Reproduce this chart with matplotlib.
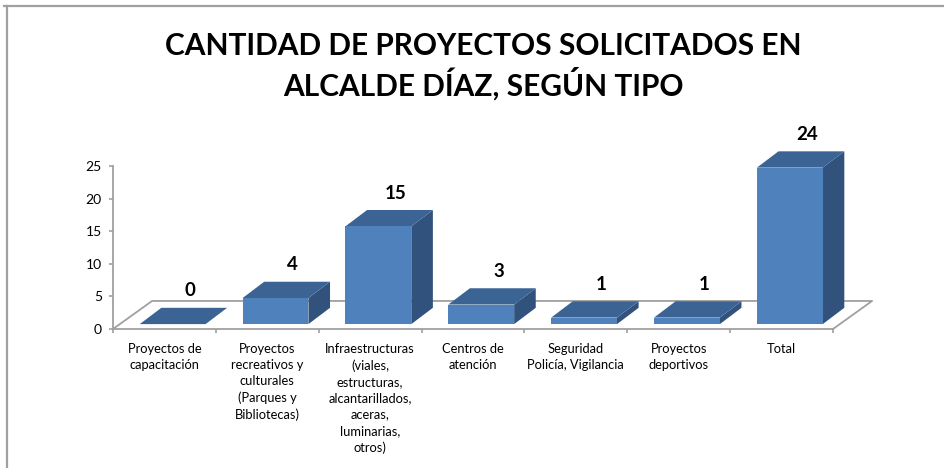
import matplotlib
matplotlib.use("Agg")
import matplotlib.pyplot as plt
from matplotlib.patches import Polygon
from matplotlib.lines import Line2D

plt.rcParams['font.family'] = ['Lato', 'DejaVu Sans']

# ---- data ----
categories = [
    "Proyectos de\ncapacitación",
    "Proyectos\nrecreativos y\nculturales\n(Parques y\nBibliotecas)",
    "Infraestructuras\n(viales,\nestructuras,\nalcantarillados,\naceras,\nluminarias,\notros)",
    "Centros de\natención",
    "Seguridad\nPolicía, Vigilancia",
    "Proyectos\ndeportivos",
    "Total",
]
values = [0, 4, 15, 3, 1, 1, 24]
yticks = [0, 5, 10, 15, 20, 25]
title = "CANTIDAD DE PROYECTOS SOLICITADOS EN\nALCALDE DÍAZ, SEGÚN TIPO"

# ---- style / geometry constants ----
FRONT = '#4F81BD'
TOP = '#3B6495'
SIDE = '#31527C'
GRID = '#A0A0A0'
BAR_L, BAR_R = -0.24, 0.40      # front face extent relative to category center
BASE = 0.75                     # bars sit slightly behind the front floor edge
BDX, BDY = 0.21, 2.5            # bar depth offset
FDX, FDY = 0.38, 4.3            # floor depth offset

W, H = 945, 468
fig = plt.figure(figsize=(W / 100, H / 100), dpi=100)

# outer frame lines (top and left)
fig.add_artist(Line2D([4 / W, 1], [1 - 6 / H, 1 - 6 / H], color=GRID, lw=1.6))
fig.add_artist(Line2D([7 / W, 7 / W], [0, 1 - 6 / H], color=GRID, lw=1.6))

ax = fig.add_axes([113 / W, 139 / H, 720 / W, 163 / H])
n = len(categories)
ax.set_xlim(-0.5, n - 0.5)
ax.set_ylim(0, 25)
for s in ['top', 'right', 'bottom']:
    ax.spines[s].set_visible(False)
ax.spines['left'].set_color(GRID)
ax.spines['left'].set_linewidth(1.3)
ax.set_facecolor('none')

ax.set_yticks(yticks)
ax.set_yticklabels([str(t) for t in yticks], fontsize=10)
ax.tick_params(axis='y', length=3, color=GRID, width=1.2, pad=5)

ax.set_xticks(range(n))
ax.set_xticklabels(categories, fontsize=9.3, linespacing=1.42, va='top')
ax.tick_params(axis='x', which='major', length=0, pad=10)
ax.set_xticks([i - 0.5 for i in range(n + 1)], minor=True)
ax.tick_params(axis='x', which='minor', length=3, color=GRID, width=1.2)

# floor outline
x0, x1 = -0.5, n - 0.5
ax.plot([x0, x0 + FDX, x1 + FDX, x1], [0, FDY, FDY, 0], color=GRID, lw=1.3,
        clip_on=False, zorder=1)
ax.plot([x0, x1], [0, 0], color=GRID, lw=1.3, clip_on=False, zorder=1)

# bars
for i, v in enumerate(values):
    xl, xr = i + BAR_L, i + BAR_R
    yb, yt = BASE, BASE + v
    side = Polygon([(xr, yb), (xr + BDX, yb + BDY), (xr + BDX, yt + BDY), (xr, yt)],
                   closed=True, facecolor=SIDE, edgecolor='none', clip_on=False, zorder=3)
    top = Polygon([(xl, yt), (xr, yt), (xr + BDX, yt + BDY), (xl + BDX, yt + BDY)],
                  closed=True, facecolor=TOP, edgecolor='none', clip_on=False, zorder=3)
    ax.add_patch(side)
    ax.add_patch(top)
    if v > 0:
        front = Polygon([(xl, yb), (xr, yb), (xr, yt), (xl, yt)], closed=True,
                        facecolor=FRONT, edgecolor='none', clip_on=False, zorder=4)
        ax.add_patch(front)
    ax.annotate(str(v), xy=((xl + xr) / 2 + BDX * 0.8, yt + BDY),
                xytext=(0, 6), textcoords='offset points',
                ha='center', va='bottom', fontsize=13.5, fontweight='bold',
                annotation_clip=False, zorder=5)

fig.text(483 / W, 1 - 66 / H, title, ha='center', va='center',
         fontsize=21.5, fontweight='bold', linespacing=1.25)

fig.savefig('out.png', dpi=100)
